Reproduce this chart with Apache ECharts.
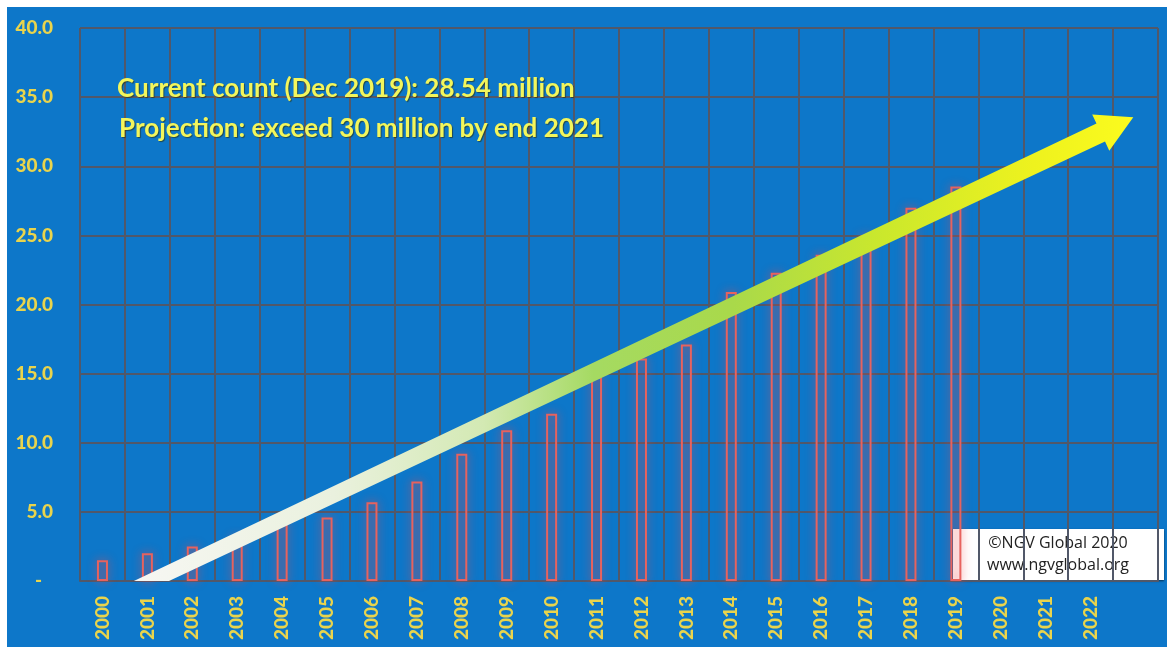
<!DOCTYPE html>
<html><head><meta charset="utf-8">
<script src="https://cdn.jsdelivr.net/npm/echarts@6/dist/echarts.min.js"></script>
<style>html,body{margin:0;padding:0;background:#ffffff;overflow:hidden}#c{position:absolute;left:7px;top:7px;width:1160px;height:640px}</style>
</head><body><div id="c"></div>
<script>
// ---- data ----
const years = ['2000','2001','2002','2003','2004','2005','2006','2007','2008','2009','2010','2011','2012','2013','2014','2015','2016','2017','2018','2019','2020','2021','2022',''];
const vehicles = [1.5,2.0,2.5,3.2,4.2,4.6,5.7,7.2,9.2,10.9,12.1,14.8,16.1,17.1,20.9,22.3,23.6,25.0,27.0,28.54,null,null,null,null];
const yTickValues = [0,5,10,15,20,25,30,35,40];
const arrowTail = [1.09, 0];      // [category position, million]
const arrowTip = [22.95, 33.55];
const notes = ['Current count (Dec 2019): 28.54 million', 'Projection: exceed 30 million by end 2021'];
const credit = ['\u00A9NGV Global 2020', 'www.ngvglobal.org'];

const BG = '#0d77c9';
const GRIDC = '#515869';
const AXISTXT = '#e9d44c';
const FONT = 'Lato';

const chart = echarts.init(document.getElementById('c'), null, {renderer:'canvas'});
chart.setOption({
  backgroundColor: BG,
  animation: false,
  grid: {left: 73, right: 9, top: 21, bottom: 66, containLabel: false},
  xAxis: [{
    type: 'category', data: years, boundaryGap: true,
    axisLine: {show: true, lineStyle: {color: GRIDC, width: 2}},
    axisTick: {show: false},
    axisLabel: {rotate: 90, interval: 0, margin: 15, color: AXISTXT, fontFamily: FONT, fontWeight: 900, fontSize: 19},
    splitLine: {show: true, interval: 0, lineStyle: {color: GRIDC, width: 2}}
  }, {
    type: 'value', min: -0.5, max: 23.5, show: false, splitLine: {show: false}
  }],
  yAxis: {
    type: 'value', min: 0, max: 40, interval: 5,
    axisLine: {show: false}, axisTick: {show: false},
    axisLabel: {
      margin: 27, color: AXISTXT, fontFamily: FONT, fontWeight: 900, fontSize: 19,
      formatter: v => yTickValues.indexOf(v) < 0 ? '' : (v === 0 ? '{d|-}' : v.toFixed(1)),
      rich: {d: {padding: [0, 11, 0, 0], color: AXISTXT, fontFamily: FONT, fontWeight: 900, fontSize: 19}}
    },
    splitLine: {show: true, lineStyle: {color: GRIDC, width: 2}}
  },
  series: [{
    type: 'bar', data: vehicles, barWidth: 11, z: 3,
    itemStyle: {color: 'rgba(0,0,0,0)', borderColor: '#e8625e', borderWidth: 2,
      shadowColor: 'rgba(240,70,70,0.9)', shadowBlur: 10}
  }, {
    type: 'custom', xAxisIndex: 1, yAxisIndex: 0, z: 5, clip: false,
    data: [[arrowTail[0], arrowTail[1], arrowTip[0], arrowTip[1]]],
    encode: {x: [0, 2], y: [1, 3]},
    renderItem: function (params, api) {
      const T = api.coord([api.value(0), api.value(1)]);
      const P = api.coord([api.value(2), api.value(3)]);
      const dx = P[0] - T[0], dy = P[1] - T[1], len = Math.hypot(dx, dy);
      const ux = dx / len, uy = dy / len, nx = uy, ny = -ux;
      const w0 = 15, w1 = 20, L = 36, H = 40, s = Math.abs(uy);
      const B = [P[0] - ux * L, P[1] - uy * L];
      const pts = [
        [T[0] - w0 / 2 / s, T[1]],
        [B[0] + nx * w1 / 2, B[1] + ny * w1 / 2],
        [B[0] + nx * H / 2, B[1] + ny * H / 2],
        P,
        [B[0] - nx * H / 2, B[1] - ny * H / 2],
        [B[0] - nx * w1 / 2, B[1] - ny * w1 / 2],
        [T[0] + w0 / 2 / s, T[1]]
      ];
      return {
        type: 'polygon', shape: {points: pts},
        style: {fill: {type: 'linear', x: 0, y: 0, x2: 1, y2: 0, colorStops: [
          {offset: 0, color: '#f7f7f3'}, {offset: 0.2, color: '#eaf1de'},
          {offset: 0.35, color: '#d3e9b3'}, {offset: 0.46, color: '#a5da62'},
          {offset: 0.6, color: '#a9d94a'}, {offset: 0.75, color: '#cbe82c'},
          {offset: 0.9, color: '#eef21e'}, {offset: 1, color: '#fbfb1e'}]}}
      };
    }
  }],
  graphic: [
    {type: 'text', left: 110, top: 69, z: 10, style: {text: notes[0], fill: '#f3f65c', font: 'bold 26px Lato',
      textShadowColor: 'rgba(40,40,0,0.6)', textShadowOffsetX: 1, textShadowOffsetY: 1, textShadowBlur: 1}},
    {type: 'text', left: 112, top: 109, z: 10, style: {text: notes[1], fill: '#f3f65c', font: 'bold 26px Lato',
      textShadowColor: 'rgba(40,40,0,0.6)', textShadowOffsetX: 1, textShadowOffsetY: 1, textShadowBlur: 1}},
    {type: 'group', left: 946, top: 522, z: 1, children: [
      {type: 'rect', shape: {x: 0, y: 0, width: 211, height: 51},
        style: {fill: '#ffffff', shadowColor: 'rgba(0,0,0,0.6)', shadowBlur: 2, shadowOffsetY: 1}},
      {type: 'text', x: 105, y: 14, style: {text: credit[0], fill: '#222222', font: '16px "Open Sans"', align: 'center', verticalAlign: 'middle'}},
      {type: 'text', x: 105, y: 36, style: {text: credit[1], fill: '#222222', font: '16px "Open Sans"', align: 'center', verticalAlign: 'middle'}}
    ]}
  ]
});
</script>
</body></html>
